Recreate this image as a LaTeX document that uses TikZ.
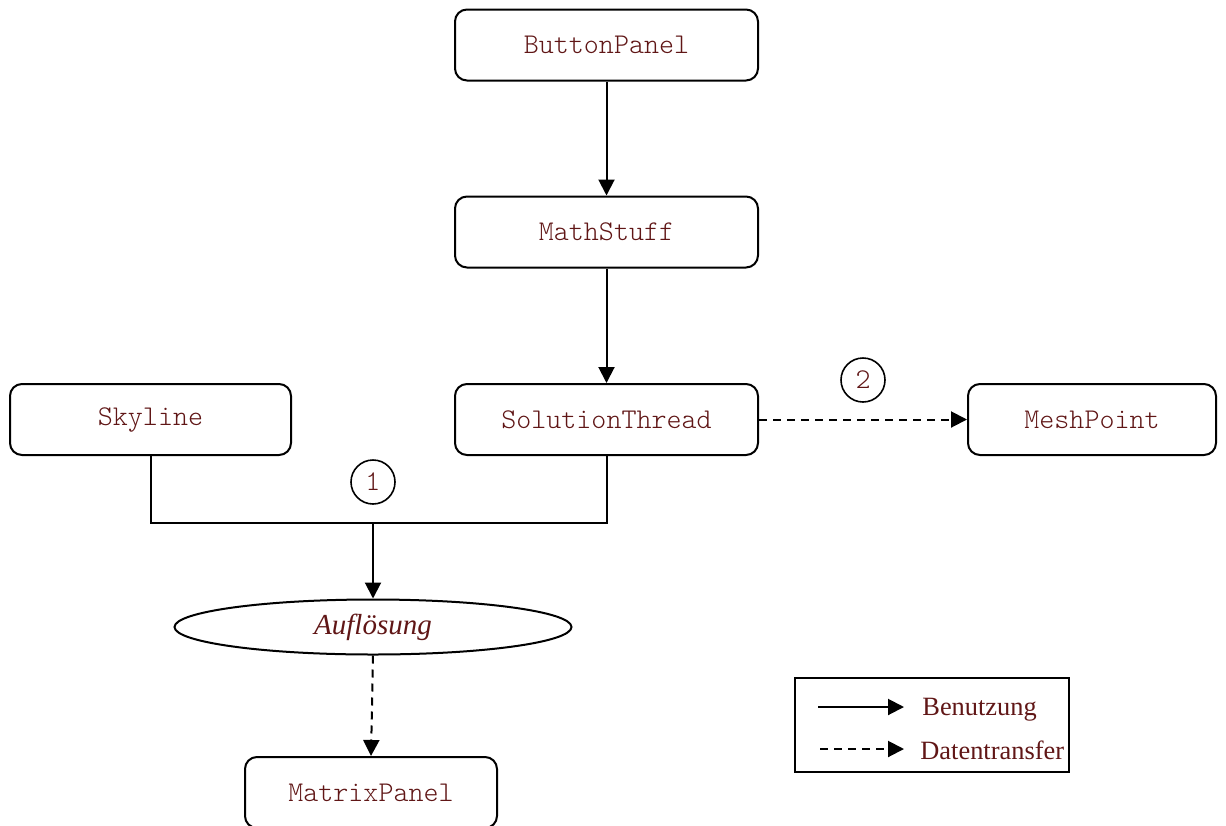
\documentclass[tikz,border=0pt]{standalone}
\usepackage{fontspec}
\setmainfont{Liberation Serif}
\setmonofont{Latin Modern Mono Light}
\usetikzlibrary{arrows.meta,shapes.geometric}
\definecolor{txt}{RGB}{96,22,22}
\begin{document}
\begin{tikzpicture}[x=0.5pt,y=-0.5pt,
  every node/.style={text=txt},
  box/.style={draw=black,line width=1pt,rounded corners=6pt,fill=white,
    font=\fontsize{14.3}{17}\selectfont\ttfamily,minimum height=35.5pt,inner sep=0pt},
  num/.style={draw=black,line width=0.8pt,circle,minimum size=22pt,inner sep=0pt,
    font=\fontsize{14.3}{17}\selectfont\ttfamily},
  conn/.style={line width=1pt,-{Triangle[length=8pt,width=8pt]}},
  flow/.style={conn,dash pattern=on 4pt off 3pt},
  legtext/.style={font=\fontsize{13.2}{16}\selectfont,anchor=west,inner sep=0pt}]
\useasboundingbox (0,0) rectangle (1226,825);
% class boxes
\node[box,minimum width=151.5pt] (bp) at (606.5,45) {ButtonPanel};
\node[box,minimum width=151.5pt] (ms) at (606.5,232) {MathStuff};
\node[box,minimum width=151.5pt] (st) at (606.5,419.5) {SolutionThread};
\node[box,minimum width=140.5pt] (sky) at (150.5,419.5) {Skyline};
\node[box,minimum width=124pt] (mesh) at (1092,419.5) {MeshPoint};
\node[box,minimum width=126pt] (mp) at (371,792.5) {MatrixPanel};
% solving step
\node[draw=black,line width=1pt,ellipse,minimum width=198.5pt,minimum height=27.5pt,
  inner sep=0pt,font=\fontsize{14.5}{17}\selectfont\itshape] (ell) at (373,627) {Auflösung};
% step numbers
\node[num] (n1) at (373,482) {1};
\node[num] (n2) at (863,380) {2};
% connectors
\coordinate (j) at (373,523);
\draw[conn] (bp) -- (ms);
\draw[conn] (ms) -- (st);
\draw[line width=1pt] (sky.south) |- (j) -| (st.south);
\draw[conn] (j) -- (ell.north);
\draw[flow] (ell.south) -- (mp.north);
\draw[flow] (st.east) -- (mesh.west);
% legend
\node[draw=black,line width=1pt,minimum width=137pt,minimum height=47pt,inner sep=0pt] (leg) at (932,725) {};
\coordinate (la1) at (818,707);
\coordinate (lb1) at (904,707);
\coordinate (la2) at (820,749);
\coordinate (lb2) at (904,749);
\draw[conn] (la1) -- (lb1);
\draw[flow] (la2) -- (lb2);
\node[legtext] (lt1) at (922,710) {Benutzung};
\node[legtext] (lt2) at (920,750) {Datentransfer};
\end{tikzpicture}
\end{document}
